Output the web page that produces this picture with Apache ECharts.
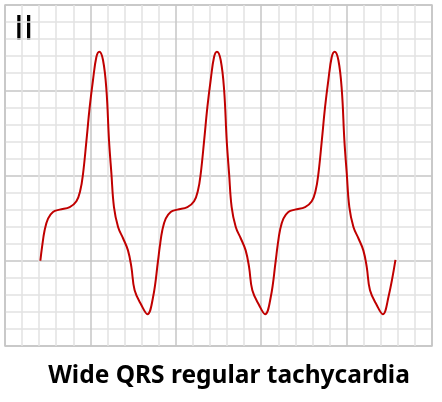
<!DOCTYPE html>
<html>
<head>
<meta charset="utf-8">
<script src="https://cdn.jsdelivr.net/npm/echarts@6/dist/echarts.min.js"></script>
<style>
  html, body { margin: 0; padding: 0; background: #fff; }
  #chart { width: 442px; height: 402px; }
</style>
</head>
<body>
<div id="chart"></div>
<script>
// ECG strip, x in small boxes (mm), y in small boxes from bottom
const leadName = 'II';
const chartTitle = 'Wide QRS regular tachycardia';

const beat1 = [
  [2.07, 5.00], [2.17, 5.81], [2.32, 6.79], [2.52, 7.47], [2.81, 7.86], [3.20, 8.00],
  [3.79, 8.15], [4.18, 8.49], [4.41, 9.13], [4.57, 10.11], [4.77, 12.06], [4.96, 14.02],
  [5.15, 15.58], [5.35, 16.95], [5.52, 17.26], [5.74, 16.76], [5.94, 15.00], [6.09, 12.06],
  [6.23, 10.11], [6.38, 8.15], [6.62, 6.98], [6.91, 6.32], [7.20, 5.61], [7.40, 4.63],
  [7.59, 3.27], [7.99, 2.39], [8.34, 1.86], [8.67, 2.87]
];
const beat2 = [
  [8.96, 5.00], [9.06, 5.81], [9.21, 6.79], [9.41, 7.47], [9.70, 7.86], [10.09, 8.00],
  [10.68, 8.15], [11.07, 8.49], [11.30, 9.13], [11.46, 10.11], [11.66, 12.06], [11.85, 14.02],
  [12.04, 15.58], [12.24, 16.95], [12.41, 17.26], [12.63, 16.76], [12.83, 15.00], [12.98, 12.06],
  [13.12, 10.11], [13.27, 8.15], [13.51, 6.98], [13.80, 6.32], [14.09, 5.61], [14.29, 4.63],
  [14.48, 3.27], [14.88, 2.39], [15.23, 1.86], [15.56, 2.87]
];
const beat3 = [
  [15.85, 5.00], [15.95, 5.81], [16.10, 6.79], [16.30, 7.47], [16.59, 7.86], [16.98, 8.00],
  [17.57, 8.15], [17.96, 8.49], [18.19, 9.13], [18.35, 10.11], [18.55, 12.06], [18.74, 14.02],
  [18.93, 15.58], [19.13, 16.95], [19.30, 17.26], [19.52, 16.76], [19.72, 15.00], [19.87, 12.06],
  [20.01, 10.11], [20.16, 8.15], [20.40, 6.98], [20.69, 6.32], [20.98, 5.61], [21.18, 4.63],
  [21.37, 3.27], [21.77, 2.39], [22.12, 1.86], [22.45, 2.87], [22.86, 5.05]
];

const chart = echarts.init(document.getElementById('chart'));

const gridAxis = (max) => ({
  type: 'value',
  min: 0,
  max: max,
  interval: 5,
  axisLabel: { show: false },
  axisTick: { show: false },
  axisLine: { show: false },
  splitLine: { show: true, lineStyle: { color: '#c6c6c6', width: 1.5 } },
  minorTick: { show: false, splitNumber: 5 },
  minorSplitLine: { show: true, lineStyle: { color: '#e2e2e2', width: 1.5 } }
});

chart.setOption({
  backgroundColor: '#fff',
  animation: false,
  grid: {
    left: 5, top: 5, width: 427, height: 341,
    show: true, borderColor: '#c6c6c6', borderWidth: 1.5
  },
  xAxis: gridAxis(25),
  yAxis: gridAxis(20),
  graphic: [
    {
      type: 'text', x: 14, y: 15,
      style: { text: leadName, fontSize: 33, fontFamily: 'DejaVu Sans', fill: '#000' }
    },
    {
      type: 'text', x: 229, y: 376,
      style: {
        text: chartTitle, fontSize: 24.5, fontWeight: 'bold',
        fontFamily: 'Noto Sans', fill: '#000',
        textAlign: 'center', textVerticalAlign: 'middle'
      }
    }
  ],
  series: [
    {
      type: 'line',
      data: beat1.concat(beat2, beat3),
      smooth: 0.4,
      showSymbol: false,
      lineStyle: { color: '#c00000', width: 2 }
    }
  ]
});
</script>
</body>
</html>
